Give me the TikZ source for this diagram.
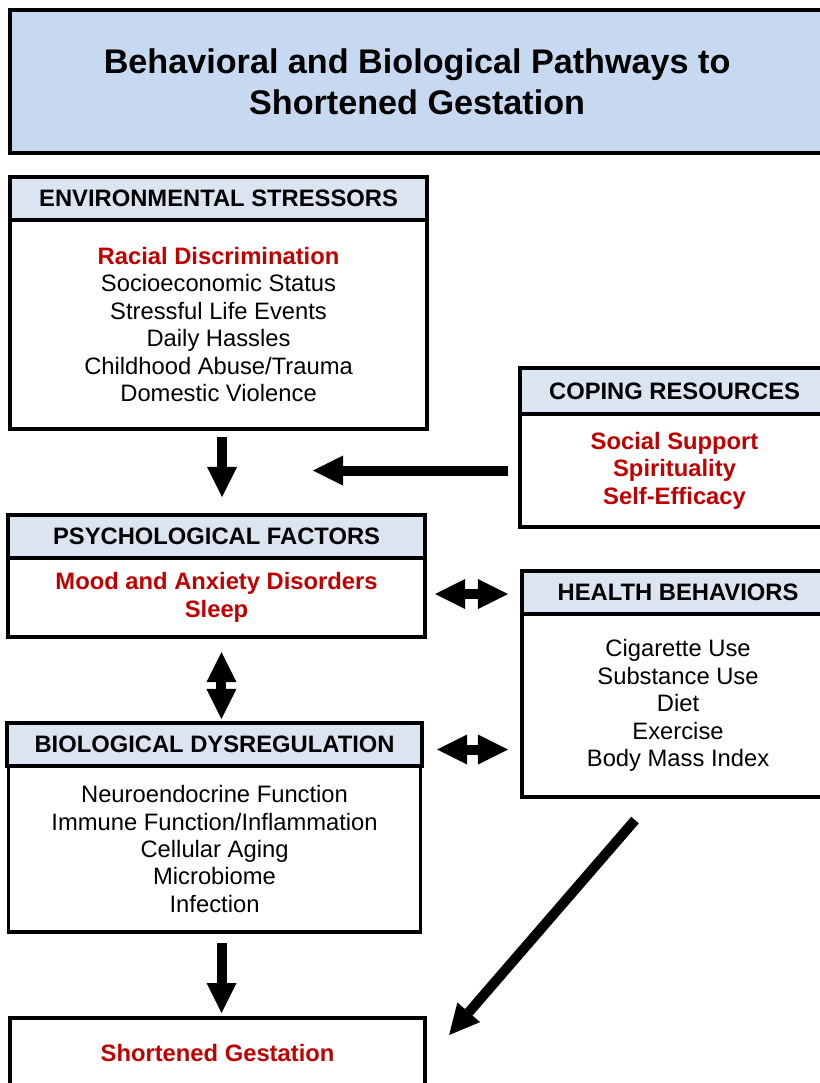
\documentclass[tikz,border=0pt]{standalone}
\usepackage{fontspec}
\setmainfont{Liberation Sans}
\usetikzlibrary{arrows.meta,calc,positioning}
\definecolor{titleblue}{rgb}{0.78, 0.85, 0.94}
\definecolor{headerblue}{rgb}{0.86, 0.90, 0.95}
\definecolor{factorred}{rgb}{0.76, 0.0, 0.0}
\tikzset{
  titlebox/.style={
    draw=black,
    line width=2.5pt,
    fill=titleblue,
    align=center,
    outer sep=0pt,
    minimum width=20.35cm,
    minimum height=3.575cm,
    font=\fontsize{24.3}{29.2}\selectfont\bfseries
  },
  header/.style={
    draw=black,
    line width=2.5pt,
    fill=headerblue,
    align=center,
    outer sep=0pt,
    minimum height=1.075cm,
    font=\fontsize{16.9}{19.5}\selectfont\bfseries
  },
  body/.style={
    draw=black,
    line width=2.5pt,
    fill=white,
    align=center,
    outer sep=0pt,
    font=\fontsize{16.9}{19.5}\selectfont
  },
  redbody/.style={
    body,
    text=factorred,
    font=\fontsize{16.9}{19.5}\selectfont\bfseries
  },
  arrow/.style={
    line width=0.25cm,
    -{Triangle[width=0.75cm,length=0.75cm,line width=0pt]}
  },
  twoway/.style={
    line width=0.25cm,
    {Triangle[width=0.75cm,length=0.75cm,line width=0pt]}-{Triangle[width=0.75cm,length=0.75cm,line width=0pt]}
  }
}

\begin{document}
\begin{tikzpicture}[x=0.025cm, y=-0.025cm]
\useasboundingbox (0,0) rectangle (820,1083);
\clip (0,0) rectangle (820,1083);
% title
\node[titlebox, anchor=north west] (title) at (10,10) {Behavioral and Biological Pathways to\\Shortened Gestation};
% left column
\node[header, anchor=north west, minimum width=10.425cm] (envh) at (10,177) {ENVIRONMENTAL STRESSORS};
\node[body, below=0pt of envh, minimum width=10.425cm, minimum height=5.225cm] (envb) {\textcolor{factorred}{\bfseries Racial Discrimination}\\Socioeconomic Status\\Stressful Life Events\\Daily Hassles\\Childhood Abuse/Trauma\\Domestic Violence};
\node[header, anchor=north west, minimum width=10.425cm] (psyh) at (8,515) {PSYCHOLOGICAL FACTORS};
\node[redbody, below=0pt of psyh, minimum width=10.425cm, minimum height=1.975cm] (psyb) {Mood and Anxiety Disorders\\Sleep};
\node[header, anchor=north west, minimum width=10.375cm] (bioh) at (7,723) {BIOLOGICAL DYSREGULATION};
\node[body, below=0pt of bioh, minimum width=10.3cm, minimum height=4.15cm] (biob) {Neuroendocrine Function\\Immune Function/Inflammation\\Cellular Aging\\Microbiome\\Infection};
\node[redbody, anchor=north west, minimum width=10.375cm, minimum height=1.75cm] (shrt) at (10,1018) {Shortened Gestation};
% right column
\node[header, anchor=north west, minimum width=7.725cm, minimum height=1.15cm] (coph) at (520,368) {COPING RESOURCES};
\node[redbody, below=0pt of coph, minimum width=7.725cm, minimum height=2.825cm] (copb) {Social Support\\Spirituality\\Self-Efficacy};
\node[header, anchor=north west, minimum width=7.8cm] (hlth) at (522,571) {HEALTH BEHAVIORS};
\node[body, below=0pt of hlth, minimum width=7.8cm, minimum height=4.575cm] (hltb) {Cigarette Use\\Substance Use\\Diet\\Exercise\\Body Mass Index};
% arrows
\coordinate (meet) at (313,468);
\coordinate (diagA) at ($(hltb.south)+(-43,23)$);
\coordinate (diagB) at ($(shrt.north east)+(24,17)$);
\draw[arrow, shorten <=0.2cm, shorten >=0.45cm] ([xshift=2.5]envb.south) -- ([xshift=2.5]envb.south |- psyh.north);
\draw[arrow, shorten <=0.3cm] (copb.west) -- (copb.west -| meet);
\draw[twoway, shorten <=0.25cm, shorten >=0.35cm] ([yshift=2.5]psyb.east) -- ([yshift=2.5]psyb.east -| hltb.west);
\draw[twoway, shorten <=0.375cm, shorten >=0.1cm] ([xshift=3.5]psyb.south) -- ([xshift=3.5]psyb.south |- bioh.north);
\draw[twoway, shorten <=0.375cm, shorten >=0.35cm] ($(bioh.east)+(0,5)$) -- ($(bioh.east -| hltb.west)+(0,5)$);
\draw[arrow, shorten <=0.275cm, shorten >=0.125cm] ([xshift=5]biob.south) -- ([xshift=5]biob.south |- shrt.north);
\draw[arrow] (diagA) -- (diagB);
\end{tikzpicture}
\end{document}
